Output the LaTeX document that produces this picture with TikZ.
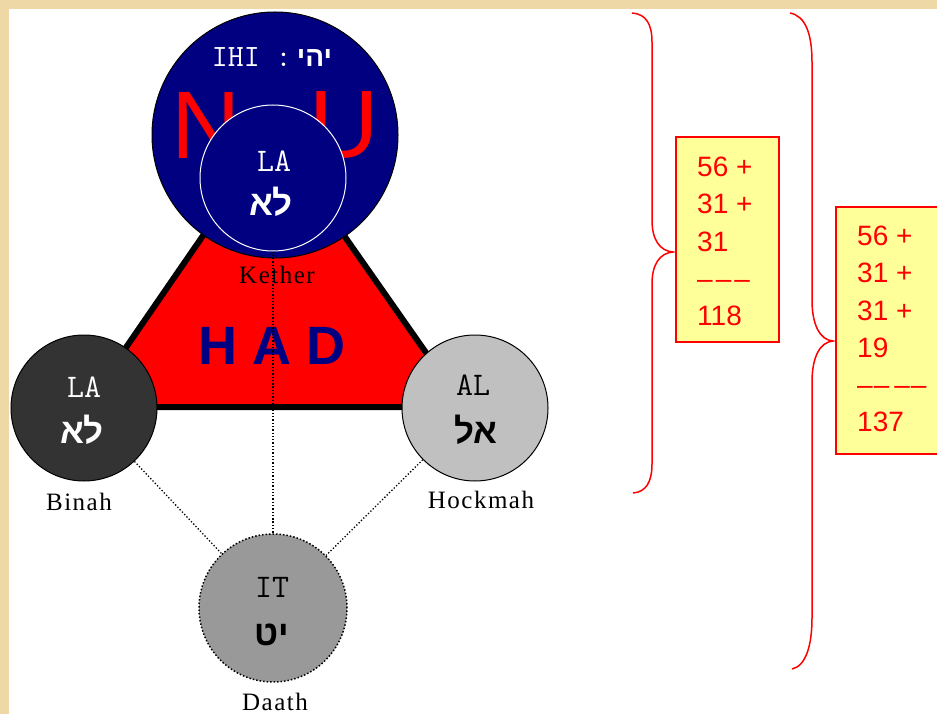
\documentclass[tikz,border=0pt]{standalone}
\usepackage{fontspec}
\setmainfont{Liberation Serif}
\newfontfamily\sansf{Liberation Sans}
\newfontfamily\hebf[Script=Hebrew]{Liberation Sans}
\newfontfamily\lblf[LetterSpace=6]{Liberation Serif}
\TeXXeTstate=1
\definecolor{navy}{HTML}{000080}
\definecolor{binahgray}{HTML}{333333}
\definecolor{hockgray}{HTML}{C0C0C0}
\definecolor{daathgray}{HTML}{999999}
\definecolor{sumyellow}{HTML}{FFFF99}
\definecolor{beige}{HTML}{EDD8A6}
\begin{document}
\begin{tikzpicture}[x=1bp,y=-1bp,
  circ/.style={circle, inner sep=0pt, draw=black, line width=1bp},
  mono/.style={font=\ttfamily\fontsize{33bp}{33bp}\selectfont, inner sep=0pt, anchor=base},
  heb/.style={font=\hebf\bfseries\fontsize{35bp}{35bp}\selectfont, inner sep=0pt, anchor=base},
  lbl/.style={font=\lblf\fontsize{25bp}{25bp}\selectfont, inner sep=0pt, anchor=base},
  sumtxt/.style={font=\sansf\fontsize{28bp}{37.2bp}\selectfont, text=red, align=left, inner sep=0pt, anchor=north west},
  sumbox/.style={rectangle, draw=red, fill=sumyellow, line width=1.5bp, inner sep=0pt},
  bracepath/.style={draw=red, line width=1.5bp},
  dotline/.style={dotted, line width=1.3bp}]
\clip (0,0) rectangle (937,714);
\fill[beige] (0,0) rectangle (937,714);
\fill[white] (9,9) rectangle (937,714);
% triangle
\coordinate (tapex) at (273,134);
\coordinate (tleft) at (85,407);
\coordinate (tright) at (464,407);
\filldraw[fill=red, draw=black, line width=6bp, line join=round] (tapex) -- (tleft) -- (tright) -- cycle;
% Kether
\node[circ, fill=navy, minimum size=246bp] (kout) at (275,135) {};
\node[font=\sansf\fontsize{96bp}{96bp}\selectfont, text=red, inner sep=0pt] (nletter) at (206,125) {N};
\node[font=\sansf\fontsize{96bp}{96bp}\selectfont, text=red, inner sep=0pt] (uletter) at (344,125) {U};
\node[inner sep=0pt, anchor=base, text=white] (ihi) at (272,67) {{\ttfamily\fontsize{31bp}{31bp}\selectfont IHI :\,}{\hebf\bfseries\fontsize{28bp}{28bp}\selectfont\beginR יהי\endR}};
\node[circ, draw=white, fill=navy, minimum size=146bp] (kin) at (273,178) {};
\node[mono, text=white] (kla) at (274,172) {LA};
\node[heb, text=white] (khe) at (271,215) {\beginR לא\endR};
\node[lbl] (kether) at (277,283) {Kether};
\node[font=\sansf\bfseries\fontsize{54bp}{54bp}\selectfont, text=navy, inner sep=0pt] (had) at (272,346) {H A D};
% Binah
\node[circ, fill=binahgray, minimum size=146bp] (binah) at (84,408) {};
\node[mono, text=white] (bla) at (84,397) {LA};
\node[heb, text=white] (bhe) at (82,443) {\beginR לא\endR};
\node[lbl] (binahlbl) at (79,510) {Binah};
% Hockmah
\node[circ, fill=hockgray, minimum size=146bp] (hock) at (475,408) {};
\node[mono] (hal) at (473,395) {AL};
\node[heb] (hhe) at (476,443) {\beginR אל\endR};
\node[lbl] (hocklbl) at (481,508) {Hockmah};
% Daath
\node[circle, inner sep=0pt, fill=daathgray, draw=black, dotted, line width=1.5bp, minimum size=148bp] (daath) at (273,608) {};
\node[mono] (dit) at (272,597) {IT};
\node[heb] (dhe) at (272,645) {\beginR יט\endR};
\node[lbl] (daathlbl) at (275,710) {Daath};
% dotted connectors
\draw[dotline] (kin) -- (daath);
\draw[dotline] (binah) -- (daath);
\draw[dotline] (hock) -- (daath);
% braces
\draw[bracepath] (632,13) .. controls (646,14) and (652,24) .. (652,42) -- (652,220)
  .. controls (652,240) and (660,251) .. (673,252)
  .. controls (660,253) and (652,264) .. (652,284) -- (652,464)
  .. controls (652,482) and (646,492) .. (633,493);
\draw[bracepath] (790,13) .. controls (806,16) and (812,35) .. (812,62) -- (812,300)
  .. controls (812,325) and (820,340) .. (833,341)
  .. controls (820,342) and (812,357) .. (812,382) -- (812,618)
  .. controls (812,645) and (806,666) .. (792,669);
% sum boxes
\node[sumbox, minimum width=103bp, minimum height=205bp] (box1) at (727.5,239.5) {};
\node[sumtxt] (sum1) at (697,157) {56 +\\31 +\\31\\–\kern3bp–\kern3bp–\\118};
\node[sumbox, minimum width=130bp, minimum height=247bp] (box2) at (901,330.5) {};
\node[sumtxt] (sum2) at (857,226) {56 +\\31 +\\31 +\\19\\–\kern1bp–\kern5bp–\kern1bp–\\137};
\end{tikzpicture}
\end{document}
